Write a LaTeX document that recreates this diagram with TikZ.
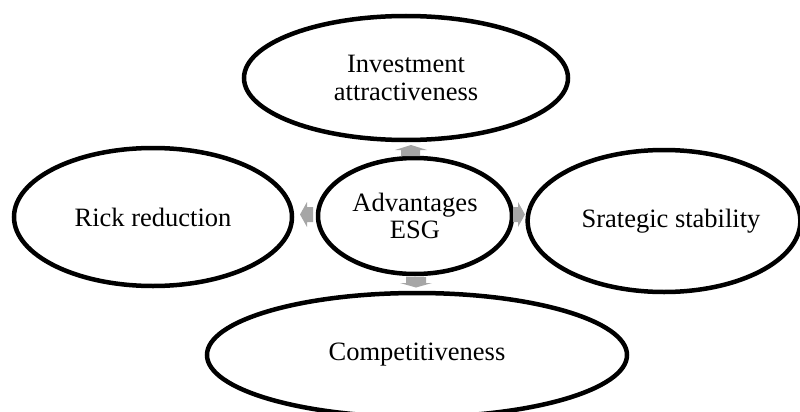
\documentclass[tikz,border=0pt]{standalone}
\usepackage{fontspec}
\setmainfont{Liberation Serif}
\usetikzlibrary{shapes.geometric}
\definecolor{arrowgray}{RGB}{166,166,166}
\begin{document}
\begin{tikzpicture}[x=1pt,y=-1pt,
  bubble/.style={ellipse,draw=black,line width=4.5pt,fill=white,inner sep=0pt,
    align=center,font=\fontsize{26.5}{27.5}\selectfont},
  blockarrow/.style={fill=arrowgray}
]
\useasboundingbox (0,0) rectangle (800,412);
\clip (0,0) rectangle (800,412);

% outer ideas around the central bubble
\node[bubble,minimum width=324pt,minimum height=124pt] (invest) at (406,78)
  {Investment\\attractiveness};
\node[bubble,minimum width=278pt,minimum height=138pt] (risk) at (153,217)
  {Rick reduction};
\node[bubble,minimum width=272pt,minimum height=142pt] (strat) at (664,221)
  {\hspace{14pt}Srategic stability};
\node[bubble,minimum width=420pt,minimum height=124pt] (compet) at (417,355)
  {Competitiveness};

% central bubble
\node[bubble,minimum width=194pt,minimum height=116pt] (adv) at (415,216)
  {Advantages\\ESG};

% small block arrows pointing outwards from the centre
% up
\fill[blockarrow] (401,156) -- (401,150) -- (395,150) -- (411,145)
  -- (427,150) -- (420,150) -- (420,156) -- cycle;
% left
\fill[blockarrow] (313,207) -- (307,207) -- (307,202) -- (300,214.5)
  -- (307,227) -- (307,222) -- (313,222) -- cycle;
% right
\fill[blockarrow] (513,207) -- (518,207) -- (518,202) -- (525,214.5)
  -- (518,227) -- (518,222) -- (513,222) -- cycle;
% down
\fill[blockarrow] (406,277) -- (406,283) -- (400,283) -- (416,287.5)
  -- (432,283) -- (426,283) -- (426,277) -- cycle;
\end{tikzpicture}
\end{document}
